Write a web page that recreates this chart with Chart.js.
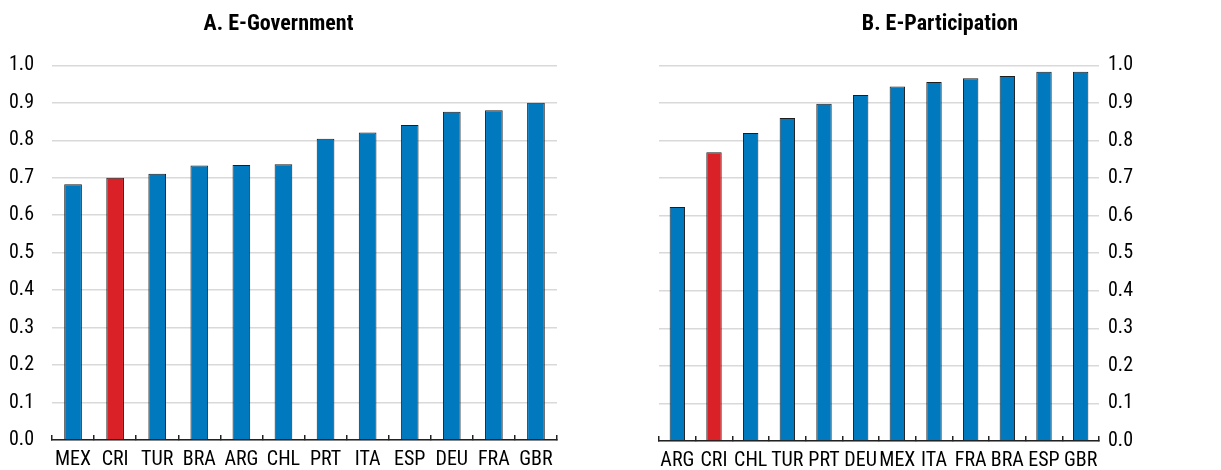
<!DOCTYPE html>
<html>
<head>
<meta charset="utf-8">
<script src="https://cdn.jsdelivr.net/npm/chart.js@4"></script>
<style>
  body { margin: 0; background: #fff; }
  .wrap { display: flex; width: 1221px; height: 470px; }
  #left-box { position: relative; width: 610px; height: 470px; }
  #right-box { position: relative; width: 611px; height: 470px; }
</style>
</head>
<body>
<div class="wrap">
  <div id="left-box"><canvas id="gov-chart"></canvas></div>
  <div id="right-box"><canvas id="part-chart"></canvas></div>
</div>
<script>
// Panel A: E-Government index
const govCountries = ['MEX', 'CRI', 'TUR', 'BRA', 'ARG', 'CHL', 'PRT', 'ITA', 'ESP', 'DEU', 'FRA', 'GBR'];
const govValues = [0.683, 0.700, 0.711, 0.733, 0.734, 0.736, 0.804, 0.821, 0.841, 0.876, 0.880, 0.900];

// Panel B: E-Participation index
const partCountries = ['ARG', 'CRI', 'CHL', 'TUR', 'PRT', 'DEU', 'MEX', 'ITA', 'FRA', 'BRA', 'ESP', 'GBR'];
const partValues = [0.623, 0.769, 0.820, 0.860, 0.898, 0.921, 0.944, 0.956, 0.966, 0.972, 0.983, 0.983];

const yTicks = [0, 0.1, 0.2, 0.3, 0.4, 0.5, 0.6, 0.7, 0.8, 0.9, 1.0];

const BLUE = '#0079BF';
const RED = '#DA2128';
const FONT = '"Roboto Condensed", "Liberation Sans", Arial, sans-serif';

function barColors(labels) {
  return labels.map(c => c === 'CRI' ? RED : BLUE);
}

function makeChart(canvasId, title, labels, values, yPos) {
  const ctx = document.getElementById(canvasId).getContext('2d');
  const isLeft = yPos === 'left';
  return new Chart(ctx, {
    type: 'bar',
    data: {
      labels: labels,
      datasets: [{
        data: values,
        backgroundColor: barColors(labels),
        borderColor: '#1e1e1e',
        borderWidth: 1,
        barPercentage: 0.84,
        categoryPercentage: 0.5
      }]
    },
    options: {
      responsive: true,
      maintainAspectRatio: false,
      animation: false,
      layout: {
        padding: { top: 5, bottom: 0, left: isLeft ? 0 : 49, right: isLeft ? 53 : 0 }
      },
      plugins: {
        legend: { display: false },
        tooltip: { enabled: false },
        title: {
          display: true,
          text: title,
          color: '#000',
          font: { family: FONT, size: 22, weight: 'bold' },
          padding: { top: 6, bottom: 28 }
        }
      },
      scales: {
        x: {
          grid: {
            display: true,
            drawOnChartArea: false,
            drawTicks: true,
            tickLength: -5,
            color: '#222',
            lineWidth: 1.5
          },
          border: { display: true, color: '#222', width: 1.5 },
          ticks: {
            color: '#000',
            font: { family: FONT, size: 20 },
            padding: 13,
            maxRotation: 0,
            autoSkip: false
          },
          afterFit: s => { s.height = 29; }
        },
        y: {
          position: yPos,
          min: 0,
          max: 1,
          afterBuildTicks: s => { s.ticks = yTicks.map(v => ({ value: v })); },
          grid: { color: '#d9d9d9', lineWidth: 1.5, drawTicks: false },
          border: { display: false },
          ticks: {
            color: '#000',
            font: { family: FONT, size: 20 },
            padding: isLeft ? 18 : 9,
            callback: v => v.toFixed(1)
          },
          afterFit: s => { s.width = isLeft ? 52 : 122; }
        }
      }
    }
  });
}

makeChart('gov-chart', 'A. E-Government', govCountries, govValues, 'left');
makeChart('part-chart', 'B. E-Participation', partCountries, partValues, 'right');
</script>
</body>
</html>
